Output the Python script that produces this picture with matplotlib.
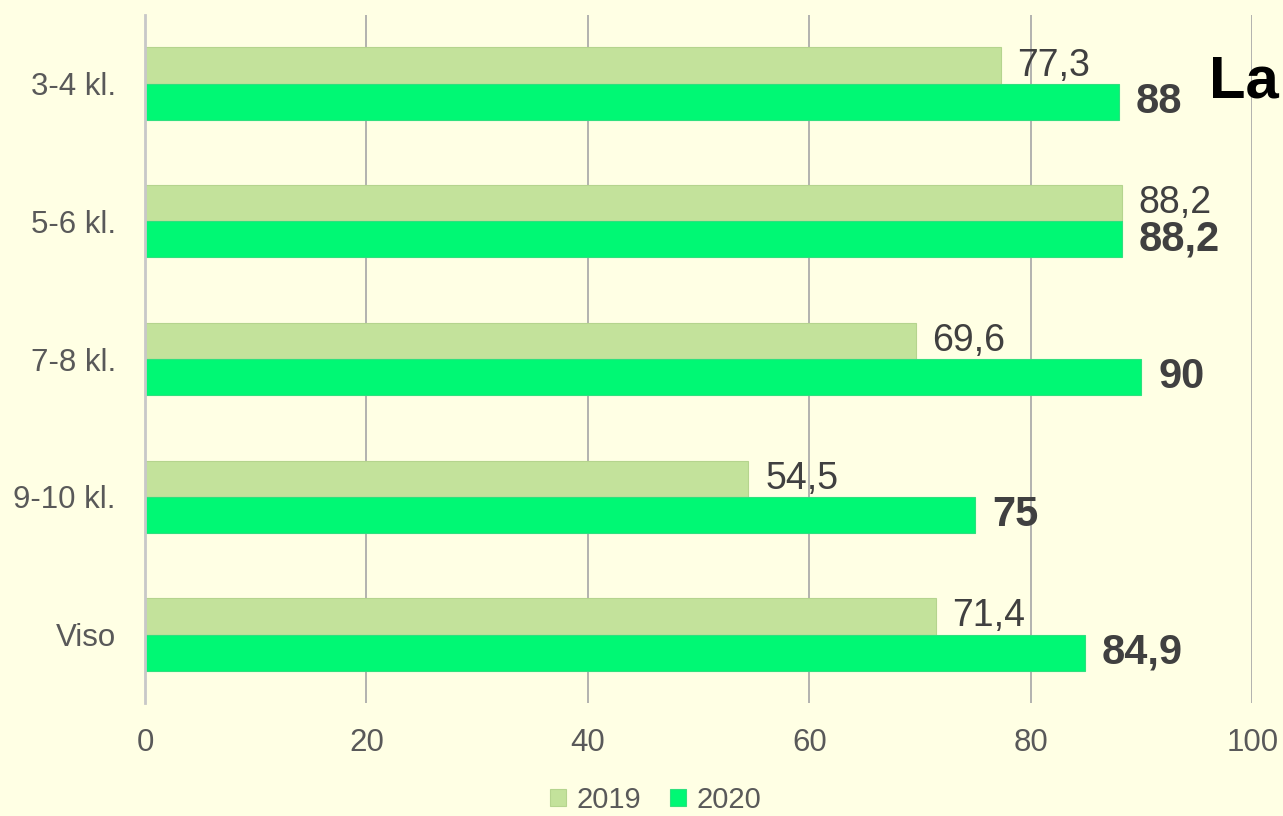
import numpy as np
import matplotlib.pyplot as plt

plt.rcParams['font.family'] = ['Liberation Sans', 'DejaVu Sans']

categories = ['3-4 kl.', '5-6 kl.', '7-8 kl.', '9-10 kl.', 'Viso']
vals_2019 = [77.3, 88.2, 69.6, 54.5, 71.4]
vals_2020 = [88, 88.2, 90, 75, 84.9]
xticks = [0, 20, 40, 60, 80, 100]

bg = '#FFFFE4'
c19 = '#C3E29B'
c20 = '#00F874'

def fmt(v):
    s = ('%g' % v).replace('.', ',')
    return s

fig = plt.figure(figsize=(12.83, 8.16), dpi=100, facecolor=bg)
ax = fig.add_axes([0.113, 0.138, 0.863, 0.844])
ax.set_facecolor(bg)

y = np.arange(len(categories))
h = 0.262
b19 = ax.barh(y - h / 2, vals_2019, height=h, color=c19, edgecolor='#B5D48E', linewidth=0.8, label='2019', zorder=3)
b20 = ax.barh(y + h / 2, vals_2020, height=h, color=c20, edgecolor='#2FE07F', linewidth=0.8, label='2020', zorder=3)

for yy, v in zip(y, vals_2019):
    ax.annotate(fmt(v), (v, yy - h / 2), xytext=(12, 0), textcoords='offset points',
                ha='left', va='center', fontsize=27, color='#404040')
for yy, v in zip(y, vals_2020):
    ax.annotate(fmt(v), (v, yy + h / 2), xytext=(12, 0), textcoords='offset points',
                ha='left', va='center', fontsize=30, fontweight='bold', color='#404040')

ax.set_xlim(0, 100)
ax.set_ylim(len(categories) - 0.5, -0.5)
ax.set_yticks(y)
ax.set_yticklabels(categories)
ax.set_xticks(xticks)
ax.tick_params(axis='both', length=0, labelsize=22.5, labelcolor='#595959')
ax.tick_params(axis='x', pad=18)
ax.tick_params(axis='y', pad=21)
ax.grid(axis='x', color='#A6A6A6', linewidth=1.2, zorder=0)
for s in ['top', 'right', 'bottom']:
    ax.spines[s].set_visible(False)
ax.spines['left'].set_color('#C8C8C8')
ax.spines['left'].set_linewidth(2)
ax.spines['left'].set_zorder(4)

fig.legend(handles=[b19, b20], loc='center', bbox_to_anchor=(0.511, 0.02), ncol=2,
           frameon=False, fontsize=21, labelcolor='#595959', handlelength=0.55,
           handleheight=0.55, handletextpad=0.35, columnspacing=1.0,
           borderpad=0.1)

fig.text(0.942, 0.9, 'La', fontsize=43, fontweight='bold', color='black', ha='left', va='center')

fig.savefig('out.png', dpi=100, facecolor=bg)
